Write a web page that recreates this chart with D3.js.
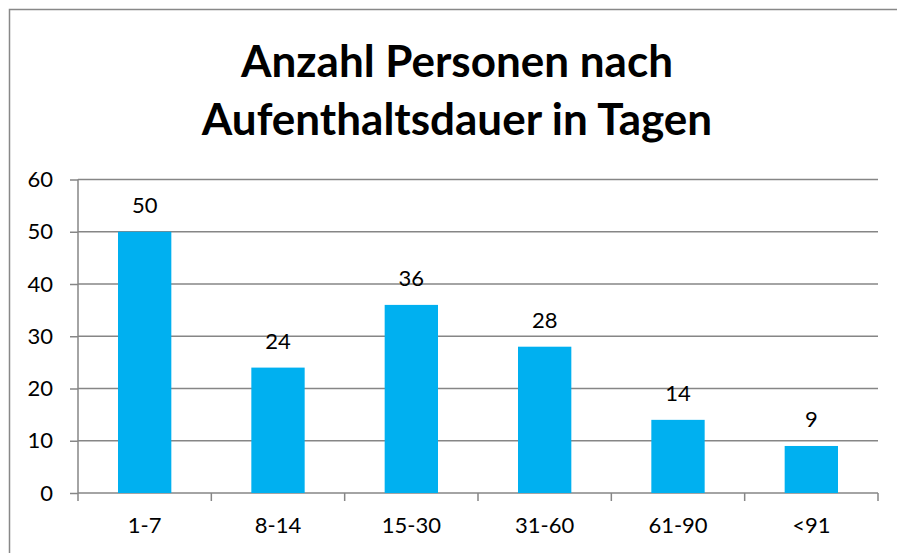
<!DOCTYPE html>
<html>
<head>
<meta charset="utf-8">
<script src="https://cdn.jsdelivr.net/npm/d3@7"></script>
<style>
  body { margin: 0; background: #fff; }
  svg text { font-family: Lato, "Open Sans", sans-serif; fill: #000; }
</style>
</head>
<body>
<svg id="chart"></svg>
<script>
const categories = ["1-7", "8-14", "15-30", "31-60", "61-90", "<91"];
const values = [50, 24, 36, 28, 14, 9];
const yTicks = [0, 10, 20, 30, 40, 50, 60];
const titleLines = ["Anzahl Personen nach", "Aufenthaltsdauer in Tagen"];

const width = 897, height = 553;
const margin = { top: 179.5, right: 19, bottom: 60, left: 78 };

const svg = d3.select("#chart").attr("width", width).attr("height", height);

// outer chart border (runs off right and bottom edge)
svg.append("rect")
  .attr("x", 9.5).attr("y", 9.5)
  .attr("width", width).attr("height", height)
  .attr("fill", "none")
  .attr("stroke", "#888")
  .attr("stroke-width", 1.5);

svg.append("g")
  .selectAll("text")
  .data(titleLines)
  .enter()
  .append("text")
  .attr("x", 457)
  .attr("y", (d, i) => 77 + i * 58)
  .attr("text-anchor", "middle")
  .attr("font-size", "44px")
  .attr("font-weight", "bold")
  .text(d => d);

const x = d3.scaleBand()
  .domain(categories)
  .range([margin.left, width - margin.right])
  .paddingInner(0.6)
  .paddingOuter(0.3);

const xTickScale = d3.scaleLinear()
  .domain([0, categories.length])
  .range([margin.left, width - margin.right]);

const y = d3.scaleLinear()
  .domain([0, 60])
  .range([height - margin.bottom, margin.top]);

// gridlines + y ticks
const yAxis = svg.append("g")
  .attr("transform", "translate(" + margin.left + ",0)")
  .call(d3.axisLeft(y).tickValues(yTicks).tickSize(8).tickPadding(17));
yAxis.selectAll(".tick line").attr("stroke", "#868686").attr("stroke-width", 1.5);
yAxis.select(".domain").remove();
yAxis.selectAll("text").attr("font-size", "22px");

svg.append("g")
  .selectAll("line")
  .data(yTicks)
  .enter()
  .append("line")
  .attr("x1", margin.left)
  .attr("x2", width - margin.right)
  .attr("y1", d => y(d))
  .attr("y2", d => y(d))
  .attr("stroke", "#868686")
  .attr("stroke-width", 1.5);

// y axis line
svg.append("line")
  .attr("x1", margin.left).attr("x2", margin.left)
  .attr("y1", y(60)).attr("y2", y(0) + 8)
  .attr("stroke", "#868686")
  .attr("stroke-width", 1.5);

// category tick marks between bands
svg.append("g")
  .selectAll("line")
  .data(d3.range(1, categories.length + 1))
  .enter()
  .append("line")
  .attr("x1", d => xTickScale(d))
  .attr("x2", d => xTickScale(d))
  .attr("y1", y(0))
  .attr("y2", y(0) + 8)
  .attr("stroke", "#868686")
  .attr("stroke-width", 1.5);

// bars
svg.append("g")
  .selectAll("rect")
  .data(values)
  .enter()
  .append("rect")
  .attr("x", (d, i) => x(categories[i]))
  .attr("y", d => y(d))
  .attr("width", x.bandwidth())
  .attr("height", d => y(0) - y(d))
  .attr("fill", "#00b0f0");

// value labels
svg.append("g")
  .selectAll("text")
  .data(values)
  .enter()
  .append("text")
  .attr("x", (d, i) => x(categories[i]) + x.bandwidth() / 2)
  .attr("y", d => y(d) - 19)
  .attr("text-anchor", "middle")
  .attr("font-size", "22px")
  .text(d => d);

// category labels
svg.append("g")
  .selectAll("text")
  .data(categories)
  .enter()
  .append("text")
  .attr("x", d => x(d) + x.bandwidth() / 2)
  .attr("y", y(0) + 40)
  .attr("text-anchor", "middle")
  .attr("font-size", "22px")
  .text(d => d);
</script>
</body>
</html>
